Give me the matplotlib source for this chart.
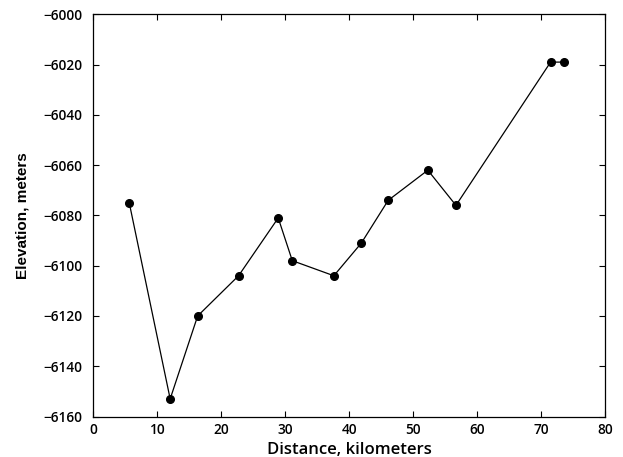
import matplotlib
matplotlib.use("Agg")
import matplotlib.pyplot as plt

distance_km = [5.6, 12.0, 16.3, 22.7, 28.9, 31.1, 37.6, 41.9, 46.1, 52.3, 56.7, 71.5, 73.6]
elevation_m = [-6075, -6153, -6120, -6104, -6081, -6098, -6104, -6091, -6074, -6062, -6076, -6019, -6019]

xticks = [0, 10, 20, 30, 40, 50, 60, 70, 80]
yticks = [-6160, -6140, -6120, -6100, -6080, -6060, -6040, -6020, -6000]

fig = plt.figure(figsize=(6.23, 4.57), dpi=100)
ax = fig.add_axes([0.150, 0.0886, 0.821, 0.880])
ax.plot(distance_km, elevation_m, color="black", linewidth=0.9,
        marker="o", markersize=5.5, markerfacecolor="black", markeredgecolor="black")
ax.set_xlim(0, 80)
ax.set_ylim(-6160, -6000)
ax.set_xticks(xticks)
ax.set_yticks(yticks)
ax.set_xticklabels([str(v) for v in xticks])
ax.set_yticklabels(["\u2212" + str(abs(v)) for v in yticks])
ax.tick_params(direction="in", length=4, width=0.8, top=True, right=True)
ax.tick_params(axis="y", pad=8)
ax.tick_params(axis="x", pad=5)
for lab in ax.get_xticklabels() + ax.get_yticklabels():
    lab.set_fontfamily("Open Sans")
    lab.set_fontweight("semibold")
    lab.set_fontsize(9.8)
for s in ax.spines.values():
    s.set_linewidth(0.9)
    s.set_color("black")
ax.set_xlabel("Distance, kilometers", fontfamily="Open Sans", fontweight="semibold",
              fontsize=12, labelpad=3)
ax.set_ylabel("Elevation, meters", fontfamily="Liberation Sans", fontweight="bold",
              fontsize=11, labelpad=10)
fig.savefig("out.png", dpi=100)
